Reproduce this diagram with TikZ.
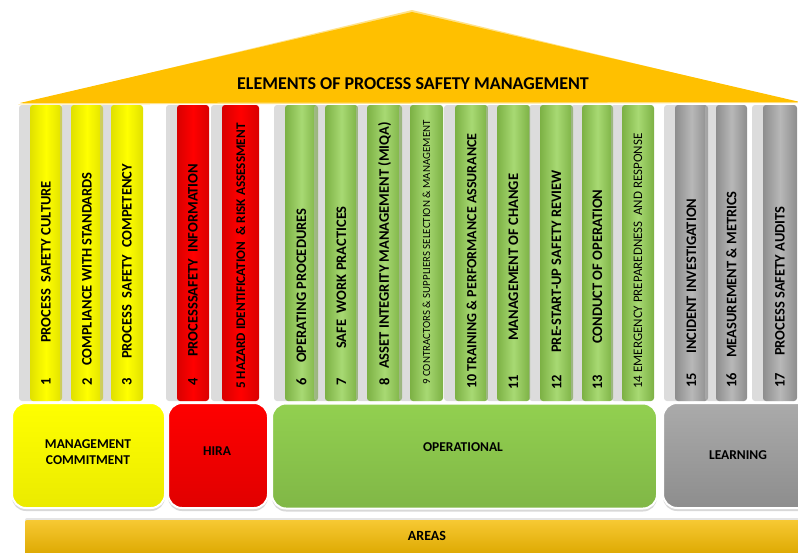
\documentclass[tikz,border=0pt]{standalone}
\usepackage{fontspec}
\setmainfont{Carlito}
\usetikzlibrary{shadows}
\definecolor{roofc}{HTML}{FFC000}
\definecolor{colY}{HTML}{FFFF00}
\definecolor{colR}{HTML}{FF0000}
\definecolor{colG}{HTML}{92D050}
\definecolor{colK}{HTML}{A6A6A6}
\definecolor{areac}{HTML}{F5BB00}
\tikzset{
  pillar/.style={rectangle, rounded corners=3pt, minimum width=33pt, minimum height=296pt, inner sep=0pt,
    drop shadow={shadow xshift=-11pt, shadow yshift=0pt, fill=gray!55, opacity=.5}},
  ypillar/.style={pillar, left color=colY!88!black, right color=colY!88!black, middle color=colY},
  rpillar/.style={pillar, left color=colR!85!black, right color=colR!85!black, middle color=colR},
  gpillar/.style={pillar, left color=colG!85!black, right color=colG!85!black, middle color=colG!80!white},
  kpillar/.style={pillar, left color=colK!85!black, right color=colK!85!black, middle color=colK!80!white},
  coltxt/.style={rotate=90, anchor=west, inner sep=0pt, font=\bfseries\fontsize{14.5}{14.5}\selectfont},
  numtxt/.style={rotate=90, inner sep=0pt, font=\bfseries\fontsize{14.5}{14.5}\selectfont},
  basebox/.style={rectangle, rounded corners=14pt, draw=white, line width=2pt, minimum height=105pt, inner sep=0pt,
    drop shadow={shadow xshift=0pt, shadow yshift=-3pt, fill=gray!60, opacity=.5}},
  boxtxt/.style={font=\bfseries\fontsize{13.5}{16}\selectfont, align=center}
}
\begin{document}
\begin{tikzpicture}[x=1pt, y=-1pt]
\useasboundingbox (0,0) rectangle (798,552);
\clip (0,0) rectangle (798,552);

% Roof
\fill[roofc!45] (18,104.5) -- (412,10) -- (800,103) -- cycle;
\fill[roofc] (20,103) -- (412,12) -- (800,102) -- cycle;
\node[font=\bfseries\fontsize{18}{18}\selectfont] (title) at (413,84) {ELEMENTS OF PROCESS SAFETY MANAGEMENT};

% Pillars
\node[ypillar, minimum width=32pt] (p1) at (46,253) {};
\node[ypillar, minimum width=32pt] (p2) at (87,253) {};
\node[ypillar, minimum width=32pt] (p3) at (127,253) {};
\node[rpillar, minimum width=32pt] (p4) at (193,253) {};
\node[rpillar, minimum width=37pt] (p5) at (240.5,253) {};
\node[gpillar] (p6) at (301.5,253) {};
\node[gpillar] (p7) at (341.5,253) {};
\node[gpillar, minimum width=35pt] (p8) at (384.5,253) {};
\node[gpillar] (p9) at (426.5,253) {};
\node[gpillar] (p10) at (471.5,253) {};
\node[gpillar] (p11) at (513.5,253) {};
\node[gpillar] (p12) at (556.5,253) {};
\node[gpillar, minimum width=31pt] (p13) at (597.5,253) {};
\node[gpillar, minimum width=32pt] (p14) at (638,253) {};
\node[kpillar] (p15) at (691.5,253) {};
\node[kpillar, minimum width=31pt] (p16) at (731.5,253) {};
\node[kpillar, minimum width=34pt] (p17) at (780,253) {};

% Pillar labels
\node[numtxt] (n1) at (46,382) {1};
\node[coltxt] (t1) at (46,343) {PROCESS\ \ SAFETY CULTURE};
\node[numtxt] (n2) at (87,382) {2};
\node[coltxt] (t2) at (87,366) {COMPLIANCE WITH STANDARDS};
\node[numtxt] (n3) at (127,382) {3};
\node[coltxt] (t3) at (127,359) {PROCESS\ \ SAFETY\ \ COMPETENCY};
\node[numtxt] (n4) at (193,382) {4};
\node[coltxt] (t4) at (193,357) {PROCESSSAFETY\ \ INFORMATION};
\node[coltxt, font=\bfseries\fontsize{13.2}{13.2}\selectfont] (t5) at (240.5,389) {5 HAZARD IDENTIFICATION\ \ \& RISK ASSESSMENT};
\node[numtxt] (n6) at (301.5,382) {6};
\node[coltxt] (t6) at (301.5,363) {OPERATING PROCEDURES};
\node[numtxt] (n7) at (341.5,382) {7};
\node[coltxt] (t7) at (341.5,349) {SAFE\ \ WORK PRACTICES};
\node[numtxt] (n8) at (384.5,382) {8};
\node[coltxt] (t8) at (384.5,369) {ASSET INTEGRITY MANAGEMENT (MIQA)};
\node[coltxt, font=\fontsize{10.9}{10.9}\selectfont] (t9) at (426.5,385) {9 CONTRACTORS \& SUPPLIERS SELECTION \& MANAGEMENT};
\node[coltxt, font=\bfseries\fontsize{14}{14}\selectfont] (t10) at (471.5,389) {10 TRAINING \& PERFORMANCE ASSURANCE};
\node[numtxt] (n11) at (513.5,382) {11};
\node[coltxt] (t11) at (513.5,341) {MANAGEMENT OF CHANGE};
\node[numtxt] (n12) at (556.5,382) {12};
\node[coltxt] (t12) at (556.5,353) {PRE-START-UP SAFETY REVIEW};
\node[numtxt] (n13) at (597.5,382) {13};
\node[coltxt] (t13) at (597.5,344) {CONDUCT OF OPERATION};
\node[coltxt, font=\fontsize{13}{13}\selectfont] (t14) at (638,389) {14 EMERGENCY PREPAREDNESS\ \ AND RESPONSE};
\node[numtxt] (n15) at (691.5,380) {15};
\node[coltxt] (t15) at (691.5,354) {INCIDENT INVESTIGATION};
\node[numtxt] (n16) at (731.5,380) {16};
\node[coltxt] (t16) at (731.5,358) {MEASUREMENT \& METRICS};
\node[numtxt] (n17) at (780,380) {17};
\node[coltxt] (t17) at (780,356) {PROCESS SAFETY AUDITS};

% Area boxes
\node[basebox, minimum width=153pt, top color=colY, bottom color=colY!92!black] (mc) at (88.5,455.5) {};
\node[boxtxt] (mctxt) at (88,452) {MANAGEMENT\\COMMITMENT};
\node[basebox, minimum width=100pt, top color=colR, bottom color=colR!88!black] (hira) at (218,455.5) {};
\node[boxtxt] (hiratxt) at (217,451) {HIRA};
\node[basebox, minimum width=385pt, top color=colG, bottom color=colG!88!black] (op) at (464.5,456) {};
\node[boxtxt] (optxt) at (463,447) {OPERATIONAL};
\node[basebox, minimum width=167pt, top color=colK!95!white, bottom color=colK!85!black] (lrn) at (746.5,455.5) {};
\node[boxtxt] (lrntxt) at (738,455) {LEARNING};

% Areas bar
\node[rectangle, rounded corners=2pt, minimum width=805pt, minimum height=35pt, top color=areac!80!white, bottom color=areac!90!black,
  drop shadow={shadow xshift=0pt, shadow yshift=2pt, fill=gray!40, opacity=.5}] (areas) at (427.5,537.5) {};
\node[font=\bfseries\fontsize{14}{14}\selectfont] (areastxt) at (427,536) {AREAS};
\end{tikzpicture}
\end{document}
